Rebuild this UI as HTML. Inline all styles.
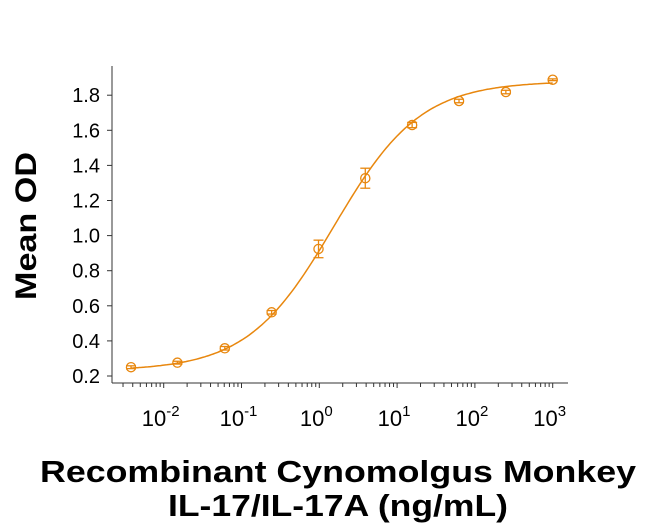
<!DOCTYPE html>
<html><head><meta charset="utf-8"><style>
body{margin:0;background:#fff}
svg{display:block;font-family:"Liberation Sans",Arial,sans-serif}
</style></head><body>
<svg id="chart" width="650" height="532" viewBox="0 0 650 532">
<g id="axes"></g>
<g id="marks"></g>
<text transform="translate(36,226) rotate(-90)" text-anchor="middle" font-size="30" font-weight="bold" fill="#000" textLength="148" lengthAdjust="spacingAndGlyphs">Mean OD</text>
<text x="338" y="482" text-anchor="middle" font-size="31" font-weight="bold" fill="#000" textLength="596" lengthAdjust="spacingAndGlyphs">Recombinant Cynomolgus Monkey</text>
<text x="338" y="516" text-anchor="middle" font-size="31" font-weight="bold" fill="#000" textLength="340" lengthAdjust="spacingAndGlyphs">IL-17/IL-17A (ng/mL)</text>
</svg>
<script>
const concentrations=[0.0038,0.015,0.061,0.244,0.977,3.9,15.6,62.5,250,1000];
const meanOD=[0.25,0.276,0.358,0.563,0.924,1.327,1.630,1.767,1.818,1.888];
const errOD=[0.008,0.008,0.01,0.01,0.05,0.057,0.015,0.01,0.01,0.005];
const fitParams=[0.23,1.88,1.55,0.78]; // bottom, top, EC50, hill
const yTicks=[0.2,0.4,0.6,0.8,1.0,1.2,1.4,1.6,1.8];
const yTickLabels=["0.2","0.4","0.6","0.8","1.0","1.2","1.4","1.6","1.8"];
const xExponents=[-2,-1,0,1,2,3];
const NS="http://www.w3.org/2000/svg";
const C="#E8870E";
const X0=112,XB=383,YT=66,XR=568;
function xs(v){return 319.3+77.8*Math.log10(v);}
function ys(v){return 376-(v-0.2)/0.2*35.1;}
function mk(tag,attrs,parent){const e=document.createElementNS(NS,tag);for(const k in attrs)e.setAttribute(k,attrs[k]);parent.appendChild(e);return e;}
const ax=document.getElementById('axes'),mg=document.getElementById('marks');
let l=mk('line',{x1:X0,y1:YT,x2:X0,y2:XB,stroke:'#333','stroke-width':1},ax);


l=mk('line',{x1:X0,y1:XB,x2:XR,y2:XB,stroke:'#333','stroke-width':1},ax);


yTicks.forEach((v,i)=>{const y=ys(v);
 const t=mk('line',{x1:X0-5,y1:y,x2:X0,y2:y,stroke:'#333'},ax);
 
 
 const tx=mk('text',{x:X0-12,y:y+7,'text-anchor':'end','font-size':20,fill:'#000'},ax);
 tx.textContent=yTickLabels[i];
 
 
});
for(let e=-3;e<=3;e++){for(let m=1;m<=9;m++){const v=m*Math.pow(10,e);const x=xs(v);if(x<X0+3||x>XR)continue;
 const t=mk('line',{x1:x,y1:XB,x2:x,y2:XB+(m==1?5:4),stroke:'#333'},ax);
 
 }}
xExponents.forEach(e=>{const x=xs(Math.pow(10,e));
 const tx=mk('text',{x:x-3,y:426,'text-anchor':'middle','font-size':22,fill:'#000'},ax);
 tx.textContent='10';
 const ts=mk('tspan',{dy:-10,'font-size':15},tx);ts.textContent=String(e);
 
 
});
function fit(x){const[b,t,c,h]=fitParams;return b+(t-b)/(1+Math.pow(c/x,h));}
let d='';const lo=Math.log10(concentrations[0]),hi=Math.log10(concentrations[concentrations.length-1]);
for(let i=0;i<=200;i++){const lx=lo+(hi-lo)*i/200,v=Math.pow(10,lx);d+=(i?'L':'M')+xs(v).toFixed(1)+','+ys(fit(v)).toFixed(1);}
const p=mk('path',{d:d,fill:'none',stroke:C,'stroke-width':1.5},mg);


concentrations.forEach((c,i)=>{const x=xs(c),y=ys(meanOD[i]),y1=ys(meanOD[i]+errOD[i]),y2=ys(meanOD[i]-errOD[i]);
 const g=mk('g',{},mg);
 
 
 mk('line',{x1:x,y1:y1,x2:x,y2:y2,stroke:C,'stroke-width':1.3},g);
 mk('line',{x1:x-5,y1:y1,x2:x+5,y2:y1,stroke:C,'stroke-width':1.3},g);
 mk('line',{x1:x-5,y1:y2,x2:x+5,y2:y2,stroke:C,'stroke-width':1.3},g);
 mk('circle',{cx:x,cy:y,r:4.6,fill:'none',stroke:C,'stroke-width':1.3},g);
});
</script>
</body></html>
